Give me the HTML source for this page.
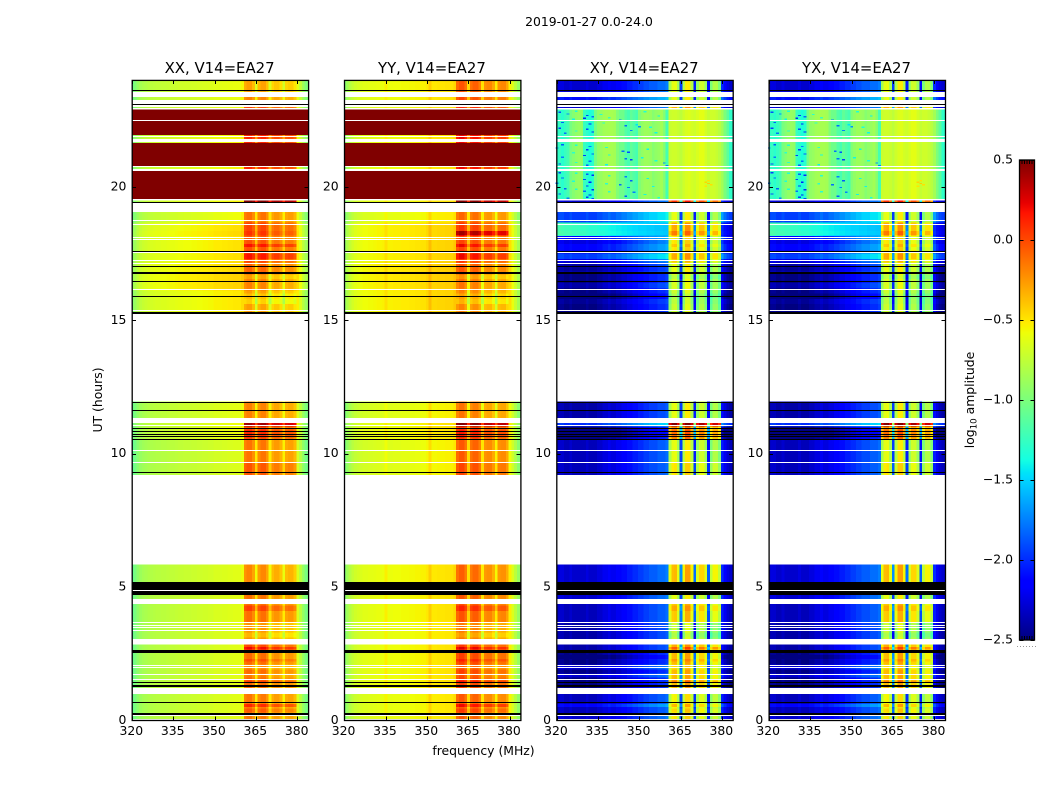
<!DOCTYPE html>
<html lang="en">
<head>
<meta charset="utf-8">
<title>2019-01-27 0.0-24.0</title>
<style>
html,body{margin:0;padding:0;background:#fff;}
svg{display:block;}
text{font-family:"DejaVu Sans","Liberation Sans",sans-serif;fill:#000;}
</style>
</head>
<body>
<svg id="fig" xmlns="http://www.w3.org/2000/svg" width="1050" height="800" viewBox="0 0 1050 800">
<text x="589" y="26" font-size="12.4" text-anchor="middle">2019-01-27 0.0-24.0</text>
<text transform="translate(102,400) rotate(-90)" font-size="12.4" text-anchor="middle">UT (hours)</text>
<text x="483.5" y="755" font-size="12.4" text-anchor="middle">frequency (MHz)</text>
<text transform="translate(974,400) rotate(-90)" font-size="12.4" text-anchor="middle">log<tspan dy="2.5" font-size="8.7">10</tspan><tspan dy="-2.5"> amplitude</tspan></text>
<g id="panels"></g>
<g id="cbar"></g>
</svg>
<script>
// Panels
const panelTitles = ['XX, V14=EA27','YY, V14=EA27','XY, V14=EA27','YX, V14=EA27'];
const freqTicks = [320,335,350,365,380];
const utTicks = [0,5,10,15,20];
const colorbarTicks = [0.5,0,-0.5,-1,-1.5,-2,-2.5];

// Spectra per 1 MHz channel from 320 to 383 MHz, log10 amplitude
const spectrumXX = [-1.08,-.98,-.9,-.85,-.82,-.8,-.78,-.77,-.76,-.75,
 -.75,-.74,-.74,-.73,-.72,-.72,-.71,-.7,-.7,-.69,
 -.69,-.69,-.68,-.68,-.67,-.67,-.66,-.66,-.65,-.65,
 -.63,-.63,-.63,-.62,-.62,-.61,-.61,-.6,-.6,-.6,
 -.56,-.22,-.17,-.17,-.27,-.55,-.25,-.18,-.18,-.28,
 -.55,-.35,-.3,-.3,-.38,-.58,-.35,-.32,-.32,-.4,
 -.62,-.74,-.87,-.98];
const spectrumYY = [-1.02,-.92,-.84,-.78,-.74,-.72,-.7,-.68,-.68,-.67,
 -.67,-.66,-.65,-.65,-.64,-.58,-.64,-.64,-.63,-.63,
 -.63,-.62,-.62,-.62,-.61,-.61,-.6,-.6,-.59,-.59,
 -.56,-.47,-.56,-.56,-.55,-.55,-.55,-.54,-.54,-.54,
 -.5,-.15,-.08,-.08,-.18,-.5,-.18,-.12,-.12,-.22,
 -.54,-.28,-.25,-.25,-.35,-.58,-.28,-.25,-.25,-.35,
 -.58,-.7,-.82,-.95];
const spectrumCrossQuiet = [-2.3,-2.25,-2.25,-2.3,-2.3,-2.25,-2.3,-2.3,-2.3,-2.3,
 -2.3,-2.25,-2.3,-2.3,-2.3,-2.25,-2.25,-2.2,-2.2,-2.15,
 -2.2,-2.2,-2.15,-2.15,-2.1,-2.1,-2.05,-2.05,-2,-2,
 -1.95,-1.95,-1.9,-1.9,-1.85,-1.85,-1.85,-1.8,-1.8,-1.8,
 -1.75,-.85,-.62,-.6,-.85,-1.95,-.8,-.52,-.52,-.8,
 -2.05,-.9,-.7,-.7,-.9,-2.1,-1,-.8,-.8,-1,
 -2,-2.15,-2.25,-2.3];
const spectrumCrossNoisy = [-1.3,-1.25,-1.3,-1.25,-1.2,-1.02,-.96,-.92,-.9,-.92,
 -1.25,-1.3,-1.35,-1.3,-1.02,-.92,-.9,-.86,-.85,-.84,
 -.84,-.86,-.98,-1.05,-1.05,-1.15,-1.2,-1.1,-1.15,-1.2,
 -.98,-.92,-.88,-.88,-.9,-.96,-.92,-.9,-.86,-.96,
 -1.2,-.72,-.7,-.7,-.72,-.76,-.7,-.66,-.64,-.68,
 -.7,-.66,-.62,-.62,-.68,-.73,-.7,-.7,-.73,-.78,
 -.86,-1,-1.12,-1.28];
const spectrumCrossCyan = [-1.2,-1.18,-1.2,-1.22,-1.22,-1.22,-1.24,-1.24,-1.25,-1.26,
 -1.26,-1.28,-1.3,-1.3,-1.3,-1.32,-1.34,-1.34,-1.36,-1.38,
 -1.4,-1.4,-1.42,-1.42,-1.44,-1.44,-1.46,-1.46,-1.48,-1.48,
 -1.5,-1.5,-1.5,-1.52,-1.52,-1.52,-1.54,-1.54,-1.54,-1.55,
 -1.55,-.85,-.62,-.6,-.85,-1.95,-.8,-.52,-.52,-.8,
 -2.05,-.9,-.7,-.7,-.9,-2.1,-1,-.8,-.8,-1,
 -2,-2.1,-2.2,-2.25];
const crossSpectra = [spectrumCrossQuiet,spectrumCrossNoisy,spectrumCrossCyan];

// Time bands (UT hours) and level offsets for the continuum (Low) and the 360-380 MHz blocks (High)
const bandTop    = [24,23.37,23.01,22.9,21.95,21.65,20.74,20.6,19.49,19.05,18.67,18.34,18.2,18.15,17.62,17.17,16.8,16.12,11.95,11.14,11.02,10.54,9.67,5.85,4.69,4.36,3.67,2.85,2.52,.99,.26];
const bandBottom = [23.56,23.25,22.94,21.95,21.65,20.78,20.6,19.54,19.4,18.67,18.34,18.2,18.15,17.62,17.17,16.8,16.12,15.25,11.33,11.02,10.54,9.67,9.19,5.17,4.54,3.67,3.04,2.52,1.21,.26,0];
const xxLow  = [0,0,.02,3,.05,3,.05,3,.05,.02,.12,.14,.14,.11,.12,.14,.16,.09,-.02,.02,0,-.05,-.05,-.03,-.03,-.03,-.03,-.03,-.03,-.03,-.03];
const xxHigh = [-.1,0,.2,3,.3,3,.3,3,.7,.05,.2,.25,.2,.15,.2,.1,0,-.1,0,.6,.18,.04,.14,-.02,.05,.06,-.07,.18,.07,.03,.03];
const yyLow  = [.05,.05,.05,3,.05,3,.05,3,.05,.02,.1,.1,.1,.1,.1,.12,.12,.1,0,.05,.05,0,0,.05,.05,.05,.03,.05,.05,.03,.03];
const yyHigh = [.05,.1,.2,3,.3,3,.3,3,.6,0,.15,.5,.3,.1,.15,.05,-.05,-.1,-.05,.6,.14,.04,.1,.02,.05,.06,-.07,.14,.12,.04,.04];
const xyLow  = [0,.2,0,0,0,0,0,0,0,.35,0,.02,-.05,.15,.05,-.1,-.2,-.2,-.1,.3,-.25,-.05,-.05,0,0,-.05,-.1,-.1,-.2,-.05,0];
const xyHigh = [0,0,.3,0,0,0,0,0,.7,0,.3,.45,.3,.1,.2,0,-.05,-.1,0,1.1,.4,0,.1,.25,0,.2,-.1,.3,.25,.05,.1];
const crossKind = [0,0,0,1,1,1,1,1,0,0,2,2,2,0,0,0,0,0,0,0,0,0,0,0,0,0,0,0,0,0,0];

// Horizontal streaks within bands, UT range and extra level
const streakTop      = [18,17.85,17.5,17,16.7,16.4,16,15.8,10.9,4.3,3.3,2.75,2.45,2.3,2.1,1.75,1.5,.62,.45];
const streakBottom   = [17.85,17.75,17.3,16.85,16.55,16.2,15.8,15.6,10.6,4.1,3.1,2.65,2.3,2.2,1.9,1.6,1.42,.5,.3];
const streakParHigh  = [0,.2,.15,0,-.1,0,-.1,-.15,.1,.15,-.1,.2,0,.1,-.1,-.05,.15,.25,.1];
const streakCrossLow = [-.1,0,.3,-.05,0,.1,-.1,.05,-.1,0,0,0,-.1,0,.2,.2,0,.2,0];
const streakCrossHigh= [0,.1,.1,0,-.1,0,-.1,-.05,.1,.1,-.1,.25,0,.1,-.1,0,.2,.2,.1];

// Flagged rows, [start, end] in UT hours
const whiteRows = [[23.37,23.56],[23.1,23.25],[23.01,23.05],[22.9,22.94],[22.46,22.5],[21.84,21.89],[21.65,21.78],[20.74,20.78],[20.6,20.66],[19.49,19.54],[19.05,19.4],[18.71,18.75],[18.57,18.61],[18.08,18.12],[18,18.05],[17.51,17.55],[17.22,17.25],[17.11,17.15],[16.12,16.16],[15.34,15.37],[11.14,11.33],[11.02,11.06],[10.5,10.54],[10.12,10.15],[9.65,9.67],[4.84,4.87],[4.36,4.54],[3.64,3.67],[3.54,3.56],[3.46,3.49],[3.34,3.37],[2.85,3.04],[2.05,2.09],[1.99,2.01],[1.72,1.75],[1.5,1.54],[.99,1.21],[.14,.18],[.04,.06]];
const blackRows = [[23.62,23.65],[23.05,23.1],[19.4,19.42],[17.58,17.6],[17.02,17.04],[16.73,16.79],[16.43,16.46],[15.9,15.92],[15.25,15.31],[11.92,11.95],[11.62,11.65],[10.92,10.95],[10.81,10.84],[10.72,10.75],[10.64,10.66],[10.54,10.56],[9.27,9.3],[4.87,5.17],[4.69,4.84],[2.52,2.62],[1.39,1.42],[1.25,1.31],[.67,.7],[.2,.26]];

// Noisy cross-hand pixels, [UT, MHz, log10 amplitude]
const speckles = [[22.82,321,-1.9],[22.76,324,-1.7],[22.7,331,-1.95],[22.66,333,-1.8],[22.6,330,-2],[22.52,343,-1.75],[22.44,322,-1.85],[22.38,332,-2.05],[22.32,345,-1.8],[22.28,350,-1.7],[22.22,321,-1.95],[22.18,331,-1.9],[22.14,347,-1.75],[22.08,333,-2],[22.04,323,-1.8],
[22.86,327,-1.35],[22.74,336,-1.3],[22.62,339,-1.25],[22.56,326,-1.4],[22.42,337,-1.3],[22.36,349,-1.45],[22.26,354,-1.35],[22.12,327,-1.3],[22.06,356,-1.4],[22.84,352,-1.35],[22.68,357,-1.4],
[21.6,322,-1.85],[21.54,332,-1.75],[21.48,320,-1.7],[21.42,331,-1.95],[21.36,344,-1.8],[21.32,346,-1.9],[21.26,333,-1.85],[21.2,330,-1.95],[21.14,322,-1.75],[21.08,345,-1.8],[21.04,347,-1.95],[20.98,332,-1.8],[20.92,359,-1.7],[20.88,321,-1.9],[20.84,331,-1.85],[20.82,360,-1.75],
[21.58,327,-1.35],[21.5,338,-1.3],[21.44,353,-1.4],[21.3,326,-1.3],[21.22,339,-1.35],[21.12,351,-1.4],[21,356,-1.35],[20.94,327,-1.3],[20.86,338,-1.4],
[20.56,321,-1.95],[20.5,331,-1.85],[20.46,333,-2],[20.4,345,-1.75],[20.36,322,-1.8],[20.3,330,-1.9],[20.26,347,-1.85],[20.2,332,-2.05],[20.16,320,-1.75],[20.1,343,-1.8],[20.06,331,-1.95],[20,346,-1.75],[19.96,323,-1.85],[19.92,333,-2],[19.86,330,-1.8],[19.82,348,-1.75],[19.76,321,-1.9],[19.72,332,-2.05],[19.68,345,-1.85],[19.64,331,-1.95],[19.6,324,-1.75],[19.58,333,-1.9],
[20.54,327,-1.35],[20.44,339,-1.3],[20.34,353,-1.4],[20.24,326,-1.35],[20.14,338,-1.3],[20.04,355,-1.4],[19.94,327,-1.35],[19.84,339,-1.3],[19.74,352,-1.4],[19.62,357,-1.35],
[20.25,375,-.5],[20.2,374,-.45],[20.15,375,-.42],[20.1,376,-.48],[20.05,374,-.5]];

const svgNS = 'http://www.w3.org/2000/svg';
const panelsGroup = document.getElementById('panels');
const cbarGroup = document.getElementById('cbar');
const panelLeft = [132,344.3,556.6,768.9];
const panelWidth = 176.4, panelTop = 80.2, panelBottom = 720.3;
const channelCount = 64;

function xScale(p, mhz){ return panelLeft[p] + (mhz-320)/64*panelWidth; }
function yScale(ut){ return panelBottom - ut/24*(panelBottom-panelTop); }
function segment(pts, t){
  for(let i=1;i<pts.length;i++){
    if(t<=pts[i][0]){
      const a=pts[i-1], b=pts[i];
      return a[1]+(b[1]-a[1])*(t-a[0])/(b[0]-a[0]);
    }
  }
  return pts[pts.length-1][1];
}
function jet(v){
  const t=Math.max(0,Math.min(1,(v+2.5)/3));
  const r=segment([[0,0],[.35,0],[.66,1],[.89,1],[1,.5]],t);
  const g=segment([[0,0],[.125,0],[.375,1],[.64,1],[.91,0],[1,0]],t);
  const b=segment([[0,.5],[.11,1],[.34,1],[.65,0],[1,0]],t);
  return 'rgb('+Math.round(r*255)+','+Math.round(g*255)+','+Math.round(b*255)+')';
}
function rect(parent,x,y,w,h,fill){
  const el=document.createElementNS(svgNS,'rect');
  el.setAttribute('x',x);
  el.setAttribute('y',y);
  el.setAttribute('width',w);
  el.setAttribute('height',h);
  el.setAttribute('fill',fill);
  el.setAttribute('shape-rendering','crispEdges');
  parent.appendChild(el);
  return el;
}
function line(parent,x1,y1,x2,y2){
  const el=document.createElementNS(svgNS,'line');
  el.setAttribute('x1',x1);
  el.setAttribute('y1',y1);
  el.setAttribute('x2',x2);
  el.setAttribute('y2',y2);
  el.setAttribute('stroke','#000');
  el.setAttribute('stroke-width','1');
  el.setAttribute('shape-rendering','crispEdges');
  parent.appendChild(el);
  return el;
}
function label(parent,x,y,str,anchor,size){
  const el=document.createElementNS(svgNS,'text');
  el.setAttribute('x',x);
  el.setAttribute('y',y);
  el.setAttribute('text-anchor',anchor);
  el.setAttribute('font-size',size);
  el.textContent=str;
  parent.appendChild(el);
  return el;
}
function isHigh(ch){ return ch>=41 && ch<=59; }
function cellValue(p,b,ch){
  const high = isHigh(ch);
  if(p===0) return spectrumXX[ch]+(high?xxHigh[b]:xxLow[b]);
  if(p===1) return spectrumYY[ch]+(high?yyHigh[b]:yyLow[b]);
  return crossSpectra[crossKind[b]][ch]+(high?xyHigh[b]:xyLow[b]);
}
function streakExtra(p,s,ch){
  const high = isHigh(ch);
  if(p<2) return high?streakParHigh[s]:0;
  return high?streakCrossHigh[s]:streakCrossLow[s];
}
function bandAt(ut){
  for(let b=0;b<bandTop.length;b++){
    if(ut<=bandTop[b] && ut>=bandBottom[b]) return b;
  }
  return -1;
}
function channelLow(ch){ return Math.max(320,320+ch-0.4); }
function channelHigh(ch){ return ch===channelCount-1 ? 384 : 320+ch+0.6; }

panelTitles.forEach(function(title,p){
  const g=document.createElementNS(svgNS,'g');
  
  
  panelsGroup.appendChild(g);

  bandTop.forEach(function(top,b){
    const y0=yScale(top), y1=yScale(bandBottom[b]);
    for(let ch=0;ch<channelCount;ch++){
      const x0=xScale(p,channelLow(ch)), x1=xScale(p,channelHigh(ch));
      const cell=rect(g,x0,y0,x1-x0,y1-y0,jet(cellValue(p,b,ch)));
      
      
    }
  });
  streakTop.forEach(function(top,s){
    const b=bandAt((top+streakBottom[s])/2);
    if(b<0) return;
    const y0=yScale(top), y1=yScale(streakBottom[s]);
    for(let ch=0;ch<channelCount;ch++){
      const extra=streakExtra(p,s,ch);
      if(extra===0) continue;
      const x0=xScale(p,channelLow(ch)), x1=xScale(p,channelHigh(ch));
      const cell=rect(g,x0,y0,x1-x0,y1-y0,jet(cellValue(p,b,ch)+extra));
      
      
    }
  });
  if(p>=2){
    speckles.forEach(function(s){
      const x0=xScale(p,s[1]-0.4), x1=xScale(p,s[1]+0.6);
      const dot=rect(g,x0,yScale(s[0]),x1-x0,yScale(s[0]-0.05)-yScale(s[0]),jet(s[2]));
      
      
    });
  }
  whiteRows.forEach(function(r){
    const el=rect(g,panelLeft[p],Math.round(yScale(r[1])),panelWidth,Math.max(1,Math.round(yScale(r[0])-yScale(r[1]))),'#fff');
    
    
  });
  blackRows.forEach(function(r){
    const el=rect(g,panelLeft[p],Math.round(yScale(r[1])),panelWidth,Math.max(1,Math.round(yScale(r[0])-yScale(r[1]))),'#000');
    
    
  });

  const frame=document.createElementNS(svgNS,'rect');
  frame.setAttribute('x',panelLeft[p]+0.2);
  frame.setAttribute('y',panelTop+0.2);
  frame.setAttribute('width',panelWidth);
  frame.setAttribute('height',panelBottom-panelTop);
  frame.setAttribute('fill','none');
  frame.setAttribute('stroke','#000');
  frame.setAttribute('stroke-width','1.3');
  
  
  g.appendChild(frame);

  freqTicks.forEach(function(f){
    const x=Math.round(xScale(p,f))+0.5;
    const t1=line(g,x,panelBottom,x,panelBottom-4);
    
    
    const t2=line(g,x,panelTop,x,panelTop+4);
    
    
    const lab=label(g,xScale(p,f)-0.7,735,String(f),'middle',12.4);
    
    
  });
  utTicks.forEach(function(u){
    const y=Math.round(yScale(u))+0.5;
    const t1=line(g,panelLeft[p],y,panelLeft[p]+4,y);
    
    
    const t2=line(g,panelLeft[p]+panelWidth,y,panelLeft[p]+panelWidth-4,y);
    
    
    const lab=label(g,panelLeft[p]-5.6,yScale(u)+3.6,String(u),'end',12.4);
    
    
  });
  const ttl=label(g,panelLeft[p]+panelWidth/2-0.6,73,title,'middle',14.9);
  
  
});

// Colorbar
const cbLeft=1019.5, cbWidth=15, cbTop=160, cbBottom=640;
function cbY(v){ return cbBottom-(v+2.5)/3*(cbBottom-cbTop); }
for(let py=cbTop;py<cbBottom;py++){
  const v=-2.5+(cbBottom-py-0.5)/(cbBottom-cbTop)*3;
  const s=rect(cbarGroup,cbLeft,py,cbWidth,1,jet(v));
  
  
}
const cbFrame=document.createElementNS(svgNS,'rect');
cbFrame.setAttribute('x',cbLeft);
cbFrame.setAttribute('y',cbTop);
cbFrame.setAttribute('width',cbWidth);
cbFrame.setAttribute('height',cbBottom-cbTop);
cbFrame.setAttribute('fill','none');
cbFrame.setAttribute('stroke','#000');
cbFrame.setAttribute('stroke-width','1.3');


cbarGroup.appendChild(cbFrame);
colorbarTicks.forEach(function(v){
  const y=Math.round(cbY(v))+0.5;
  const t1=line(cbarGroup,cbLeft,y,cbLeft+4,y);
  
  
  const t2=line(cbarGroup,cbLeft+cbWidth,y,cbLeft+cbWidth-4,y);
  
  
  const str=(v<0?'\u2212':'')+Math.abs(v).toFixed(1);
  const lab=label(cbarGroup,1013,cbY(v)+3.5,str,'end',12.4);
  
  
});
[0,1,2,3,4].forEach(function(i){
  const x=cbLeft+2.5+i*2.5;
  const a=line(cbarGroup,x,cbTop,x,cbTop+4);
  
  
  const c=line(cbarGroup,x,cbBottom,x,cbBottom-4);
  
  
});
[0,1,2,3,4,5,6].forEach(function(i){
  const d=rect(cbarGroup,1017+i*3,646,1,1,'#999');
  
  
});
</script>
</body>
</html>
